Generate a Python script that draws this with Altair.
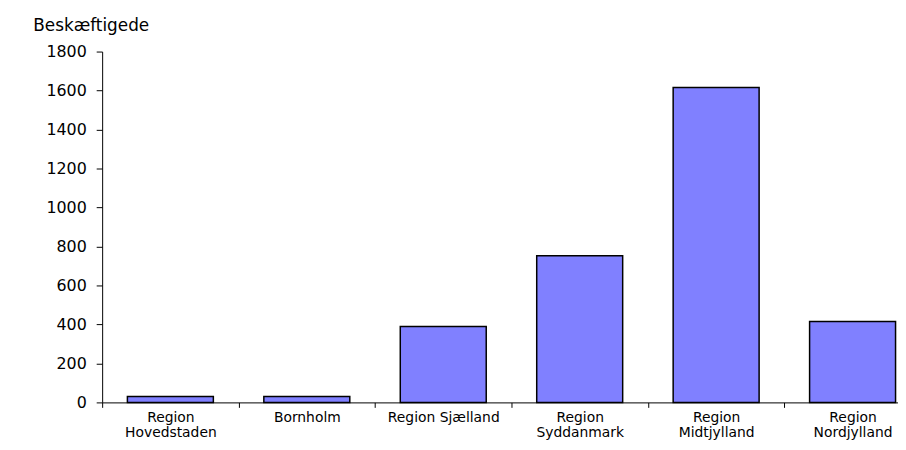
import altair as alt
import pandas as pd

categories = ["Region Hovedstaden", "Bornholm", "Region Sjælland",
              "Region Syddanmark", "Region Midtjylland", "Region Nordjylland"]
values = [30, 30, 390, 752, 1615, 415]

df = pd.DataFrame({"region": categories, "beskaeftigede": values})

FONT = "DejaVu Sans"

chart = alt.Chart(df).mark_bar(
    color="#8080FF", stroke="black", strokeWidth=1.5,
    width=alt.RelativeBandSize(0.63)
).encode(
    x=alt.X("region:N", sort=categories, title=None,
            scale=alt.Scale(paddingInner=0, paddingOuter=0),
            axis=alt.Axis(labelAngle=0, tickBand="extent", tickSize=5,
                          labelFont=FONT, labelFontSize=14, labelColor="black",
                          labelLineHeight=15, labelPadding=3,
                          labelExpr="datum.label == 'Region Sjælland' ? datum.label : split(datum.label, ' ')",
                          domainColor="black", tickColor="black", labelBaseline="top")),
    y=alt.Y("beskaeftigede:Q", title="Beskæftigede",
            scale=alt.Scale(domain=[0, 1800], nice=False),
            axis=alt.Axis(values=list(range(0, 1801, 200)), format="d", grid=False, tickSize=6,
                          labelFont=FONT, labelFontSize=16, labelColor="black",
                          labelPadding=10, domainColor="black", tickColor="black",
                          titleAngle=0, titleAlign="left", titleBaseline="alphabetic",
                          titleX=-70, titleY=-21, titleFont=FONT, titleFontSize=17,
                          titleFontWeight="normal", titleColor="black"))
).properties(
    width=826, height=354,
    autosize=alt.AutoSizeParams(type="none"),
    padding={"left": 95, "top": 42, "right": -23, "bottom": 38}
).configure_view(stroke=None)

chart.save("out.html", embed_options={"renderer": "svg", "actions": False})
